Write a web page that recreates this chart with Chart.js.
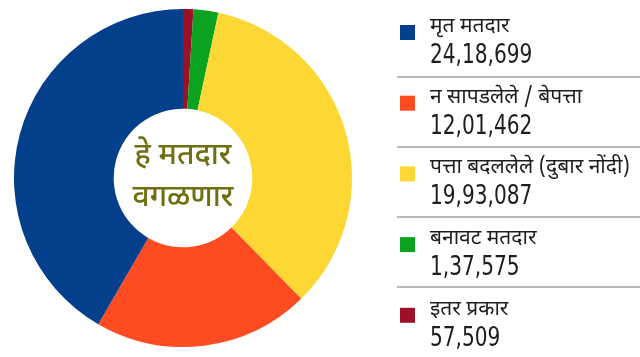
<!DOCTYPE html>
<html><head><meta charset="utf-8">
<script src="https://cdn.jsdelivr.net/npm/chart.js@4"></script>
<style>html,body{margin:0;padding:0;background:#fff;}#wrap{width:640px;height:357px;position:relative;}</style>
</head><body><div id="wrap"><canvas id="c" width="640" height="357"></canvas></div>
<script>
// Legend order (top to bottom)
const categories = ["मृत मतदार", "न सापडलेले / बेपत्ता", "पत्ता बदललेले (दुबार नोंदी)", "बनावट मतदार", "इतर प्रकार"];
const values = [2418699, 1201462, 1993087, 137575, 57509];
const valueLabels = ["24,18,699", "12,01,462", "19,93,087", "1,37,575", "57,509"];
const colors = ["#043F8B", "#FE4B21", "#FDD835", "#0BA21F", "#9A1128"];
const centerLines = ["हे मतदार", "वगळणार"];

// Slices drawn clockwise from top in reverse legend order
const sliceOrder = [4, 3, 2, 1, 0];

const devFont = '"Noto Sans Devanagari", "Noto Sans", "Lohit Devanagari", sans-serif';
const numFont = '"DejaVu Sans Condensed", "Liberation Sans Narrow", sans-serif';

const extras = {
  id: 'extras',
  afterDraw(chart) {
    const ctx = chart.ctx;
    const meta = chart.getDatasetMeta(0);
    const arc = meta.data[0];
    const cx = arc.x, cy = arc.y;
    ctx.save();
    // center text
    ctx.fillStyle = "#6F6F12";
    ctx.font = '500 30px ' + devFont;
    ctx.textAlign = 'center';
    ctx.textBaseline = 'middle';
    ctx.fillText(centerLines[0], cx, cy - 20);
    ctx.fillText(centerLines[1], cx, cy + 22);
    // legend
    ctx.textAlign = 'left';
    for (let i = 0; i < categories.length; i++) {
      const top = 25 + 70.7 * i;
      ctx.fillStyle = colors[i];
      ctx.fillRect(400, top, 15, 15);
      ctx.fillStyle = "#1d1d1d";
      ctx.font = '21px ' + devFont;
      ctx.textBaseline = 'middle';
      ctx.fillText(categories[i], 430, top + 3);
      ctx.save();
      ctx.translate(430, top + 38);
      ctx.scale(0.86, 1);
      ctx.font = '500 26px ' + numFont;
      ctx.textBaseline = 'alphabetic';
      ctx.fillText(valueLabels[i], 0, 0);
      ctx.restore();
      if (i < categories.length - 1) {
        ctx.strokeStyle = "#b8b8b8";
        ctx.lineWidth = 2;
        const ly = Math.round(77 + 70 * i) ;
        ctx.beginPath();
        ctx.moveTo(397, ly);
        ctx.lineTo(640, ly);
        ctx.stroke();
      }
    }
    ctx.restore();
  }
};

new Chart(document.getElementById('c'), {
  type: 'doughnut',
  data: {
    labels: sliceOrder.map(i => categories[i]),
    datasets: [{
      data: sliceOrder.map(i => values[i]),
      backgroundColor: sliceOrder.map(i => colors[i]),
      borderWidth: 0
    }]
  },
  options: {
    responsive: false,
    animation: false,
    cutout: '41%',
    layout: { padding: { left: 14, top: 9, bottom: 10, right: 288 } },
    plugins: { legend: { display: false }, tooltip: { enabled: false } }
  },
  plugins: [extras]
});
</script>
</body></html>
